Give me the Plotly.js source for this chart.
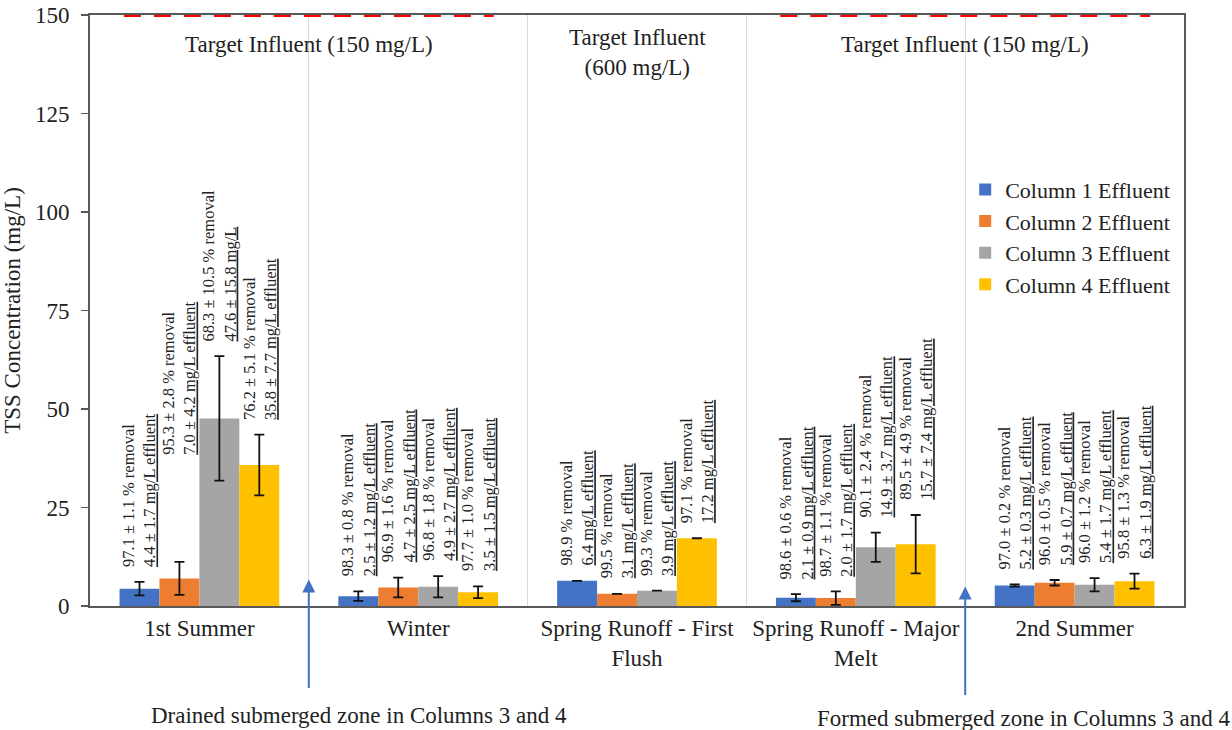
<!DOCTYPE html>
<html>
<head>
<meta charset="utf-8">
<script src="https://cdn.plot.ly/plotly-3.0.1.min.js"></script>
<style>
  html, body { margin: 0; padding: 0; background: #fff; }
  #chart { width: 1232px; height: 730px; }
</style>
</head>
<body>
<div id="chart"></div>
<script>
// ---------------- DATA ----------------
const categories = ["1st Summer", "Winter", "Spring Runoff - First<br>Flush", "Spring Runoff - Major<br>Melt", "2nd Summer"];
const seriesNames = ["Column 1 Effluent", "Column 2 Effluent", "Column 3 Effluent", "Column 4 Effluent"];

const col1Mean = [4.4, 2.5, 6.4, 2.1, 5.2];
const col1Err  = [1.7, 1.2, 0,   0.9, 0.3];
const col2Mean = [7.0, 4.7, 3.1, 2.0, 5.9];
const col2Err  = [4.2, 2.5, 0,   1.7, 0.7];
const col3Mean = [47.6, 4.9, 3.9, 14.9, 5.4];
const col3Err  = [15.8, 2.7, 0,   3.7, 1.7];
const col4Mean = [35.8, 3.5, 17.2, 15.7, 6.3];
const col4Err  = [7.7,  1.5, 0,    7.4, 1.9];

const col1Removal = ["97.1 ± 1.1", "98.3 ± 0.8", "98.9", "98.6 ± 0.6", "97.0 ± 0.2"];
const col2Removal = ["95.3 ± 2.8", "96.9 ± 1.6", "99.5", "98.7 ± 1.1", "96.0 ± 0.5"];
const col3Removal = ["68.3 ± 10.5", "96.8 ± 1.8", "99.3", "90.1 ± 2.4", "96.0 ± 1.2"];
const col4Removal = ["76.2 ± 5.1", "97.7 ± 1.0", "97.1", "89.5 ± 4.9", "95.8 ± 1.3"];

const col1Effluent = ["4.4 ± 1.7 mg/L effluent", "2.5 ± 1.2 mg/L effluent", "6.4 mg/L effluent", "2.1 ± 0.9 mg/L effluent", "5.2 ± 0.3 mg/L effluent"];
const col2Effluent = ["7.0 ± 4.2 mg/L effluent", "4.7 ± 2.5 mg/L effluent", "3.1 mg/L effluent", "2.0 ± 1.7 mg/L effluent", "5.9 ± 0.7 mg/L effluent"];
const col3Effluent = ["47.6 ± 15.8 mg/L", "4.9 ± 2.7 mg/L effluent", "3.9 mg/L effluent", "14.9 ± 3.7 mg/L effluent", "5.4 ± 1.7 mg/L effluent"];
const col4Effluent = ["35.8 ± 7.7 mg/L effluent", "3.5 ± 1.5 mg/L effluent", "17.2 mg/L effluent", "15.7 ± 7.4 mg/L effluent", "6.3 ± 1.9 mg/L effluent"];

const targetInfluent = [150, 150, 600, 150, 150];
const targetLabels = ["Target Influent (150 mg/L)", "Target Influent<br>(600 mg/L)", "Target Influent (150 mg/L)"];
const yTicks = [0, 25, 50, 75, 100, 125, 150];

const noteDrained = "Drained submerged zone in Columns 3 and 4";
const noteFormed = "Formed submerged zone in Columns 3 and 4";

// ---------------- STYLE ----------------
const FONT = '"Liberation Serif", "Times New Roman", serif';
const TXT = '#222222';
const BIG = 23;
const colors = ["#4472C4", "#ED7D31", "#A5A5A5", "#FFC000"];
const means = [col1Mean, col2Mean, col3Mean, col4Mean];
const errs = [col1Err, col2Err, col3Err, col4Err];
const removals = [col1Removal, col2Removal, col3Removal, col4Removal];
const effluents = [col1Effluent, col2Effluent, col3Effluent, col4Effluent];
const bargap = 0.27;
const barW = (1 - bargap) / 4;
const yMax = 150;

const traces = seriesNames.map((name, s) => ({
  type: 'bar',
  name: name,
  x: categories,
  y: means[s],
  marker: { color: colors[s] },
  error_y: { type: 'data', array: errs[s], visible: true, color: '#111', thickness: 1.8, width: 5 },
  hoverinfo: 'skip'
}));

const annotations = [];
// rotated value labels
const extraLift = { '0-1': 92 };
for (let s = 0; s < 4; s++) {
  for (let i = 0; i < categories.length; i++) {
    annotations.push({
      xref: 'x', yref: 'y',
      x: i + (s - 1.5) * barW,
      y: means[s][i] + errs[s][i],
      text: removals[s][i] + ' % removal<br><u>' + effluents[s][i] + '</u>',
      showarrow: false,
      textangle: -90,
      align: 'left',
      xanchor: 'center', yanchor: 'bottom',
      yshift: 13 + (extraLift[i + '-' + s] || 0),
      font: { family: FONT, size: 16.5, color: TXT }
    });
  }
}

// target influent runs (dashed red lines for targets inside the axis range)
const shapes = [];
const half = (1 - bargap) / 2;
let runStart = null;
for (let i = 0; i <= targetInfluent.length; i++) {
  const inRange = i < targetInfluent.length && targetInfluent[i] <= yMax;
  const same = runStart !== null && inRange && targetInfluent[i] === targetInfluent[runStart];
  if (runStart !== null && !same) {
    shapes.push({
      type: 'line', xref: 'x', yref: 'y', layer: 'above',
      x0: runStart - half + 0.02, x1: i - 1 + half - 0.02,
      y0: targetInfluent[runStart], y1: targetInfluent[runStart],
      line: { color: '#FF0000', width: 4, dash: '17px,13px' }
    });
    runStart = null;
  }
  if (runStart === null && inRange) runStart = i;
}

// Target influent text
const targetX = [0.5, 2, 3.5];
const targetY = [142.5, 140.5, 142.5];
targetLabels.forEach((t, k) => annotations.push({
  xref: 'x', yref: 'y', x: targetX[k], y: targetY[k], text: t,
  showarrow: false, xanchor: 'center', yanchor: 'middle',
  font: { family: FONT, size: BIG, color: TXT }
}));

// arrows and notes
annotations.push({
  xref: 'x', yref: 'paper', x: 0.5, y: 0.045, text: '', showarrow: true,
  ax: 0, ay: 110, arrowhead: 2, arrowsize: 1.3, arrowwidth: 2, arrowcolor: '#4472C4'
});
annotations.push({
  xref: 'x', yref: 'paper', x: 3.5, y: 0.033, text: '', showarrow: true,
  ax: 0, ay: 110, arrowhead: 2, arrowsize: 1.3, arrowwidth: 2, arrowcolor: '#4472C4'
});
annotations.push({
  xref: 'paper', yref: 'paper', x: 0.246, y: -0.186, text: noteDrained,
  showarrow: false, xanchor: 'center', yanchor: 'middle',
  font: { family: FONT, size: BIG, color: TXT }
});
annotations.push({
  xref: 'paper', yref: 'paper', x: 0.853, y: -0.19, text: noteFormed,
  showarrow: false, xanchor: 'center', yanchor: 'middle',
  font: { family: FONT, size: BIG, color: TXT }
});

const layout = {
  width: 1232, height: 730,
  margin: { l: 90, r: 48, t: 15, b: 124 },
  paper_bgcolor: '#ffffff', plot_bgcolor: '#ffffff',
  barmode: 'group', bargap: bargap, bargroupgap: 0,
  font: { family: FONT, color: TXT },
  showlegend: true,
  legend: {
    x: 0.80, y: 0.74, xanchor: 'left', yanchor: 'top',
    bgcolor: 'rgba(0,0,0,0)', borderwidth: 0,
    font: { family: FONT, size: 22, color: TXT },
    traceorder: 'normal'
  },
  xaxis: {
    type: 'category',
    tickson: 'boundaries',
    showgrid: true, gridcolor: '#d9d9d9', gridwidth: 1,
    showline: true, linecolor: '#595959', linewidth: 2, mirror: true,
    ticks: '',
    tickfont: { family: FONT, size: BIG, color: TXT },
    fixedrange: true
  },
  yaxis: {
    range: [0, yMax],
    tickvals: yTicks,
    showgrid: false, zeroline: false,
    showline: true, linecolor: '#595959', linewidth: 2, mirror: true,
    ticks: 'outside', ticklen: 7, tickcolor: '#595959', tickwidth: 1.5,
    ticklabelstandoff: 7,
    tickfont: { family: FONT, size: BIG, color: TXT },
    title: { text: 'TSS Concentration (mg/L)', font: { family: FONT, size: BIG, color: TXT }, standoff: 8 },
    fixedrange: true
  },
  shapes: shapes,
  annotations: annotations
};

Plotly.newPlot('chart', traces, layout, { displayModeBar: false, staticPlot: true });
</script>
</body>
</html>
